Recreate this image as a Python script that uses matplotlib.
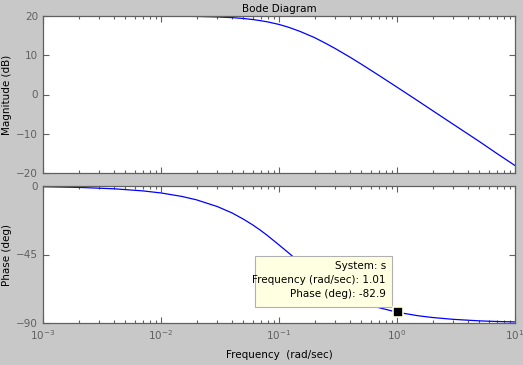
import numpy as np
import matplotlib.pyplot as plt
from matplotlib.patches import Rectangle
from matplotlib.ticker import LogLocator

# values
freq = [0.001, 0.002, 0.004, 0.007, 0.01, 0.015, 0.02, 0.03, 0.04, 0.05, 0.06,
        0.07, 0.08, 0.1, 0.12, 0.15, 0.2, 0.25, 0.3, 0.4, 0.5, 0.7, 1.0, 1.5,
        2.0, 3.0, 5.0, 7.0, 10.0]
mag_db = [20.0, 20.0, 19.99, 19.98, 19.97, 19.94, 19.89, 19.76, 19.59, 19.36, 19.1,
          18.8, 18.5, 17.85, 17.15, 16.1, 14.5, 13.0, 11.7, 9.5, 7.7, 4.9, 1.87, -1.6,
          -4.1, -7.6, -12.0, -15.0, -18.1]
phase_deg = [-0.46, -0.92, -1.83, -3.2, -4.57, -6.84, -9.09, -13.5, -17.7, -21.8, -25.6,
             -29.2, -32.6, -38.7, -43.8, -50.2, -58.0, -63.4, -67.4, -72.6, -76.0, -79.9, -82.9, -85.2,
             -86.4, -87.6, -88.6, -89.0, -89.3]

tip_freq = 1.01
tip_phase = -82.9
tip_lines = ['System: s', 'Frequency (rad/sec): 1.01', 'Phase (deg): -82.9']

bg = '#c8c8c8'
gray = '#606060'
fs = 7.5

fig = plt.figure(figsize=(5.23, 3.65), dpi=100, facecolor=bg)
W, H = 523, 365
ax1 = fig.add_axes([43 / W, 1 - 173 / H, 472 / W, 157 / H])
ax2 = fig.add_axes([43 / W, 1 - 323 / H, 472 / W, 137 / H])

for ax in (ax1, ax2):
    ax.set_xscale('log')
    ax.set_xlim(1e-3, 10)
    ax.xaxis.set_minor_locator(LogLocator(base=10, subs=np.arange(2, 10), numticks=20))
    ax.tick_params(which='both', direction='in', top=True, right=True,
                   colors=gray, labelsize=fs, width=0.8)
    ax.tick_params(which='major', length=4.2)
    ax.tick_params(which='minor', length=2.4)
    for s in ax.spines.values():
        s.set_color(gray)
        s.set_linewidth(0.9)

ax1.plot(freq, mag_db, color='#0000ff', lw=0.9)
ax1.set_ylim(-20, 20)
ax1.set_yticks([-20, -10, 0, 10, 20])
ax1.tick_params(labelbottom=False)
ax1.set_ylabel('Magnitude (dB)', fontsize=fs, labelpad=3)
ax1.set_title('Bode Diagram', fontsize=fs, pad=3)

ax2.plot(freq, phase_deg, color='#0000ff', lw=0.9)
ax2.set_ylim(-90, 0)
ax2.set_yticks([-90, -45, 0])
ax2.set_ylabel('Phase (deg)', fontsize=fs, labelpad=3)
ax2.set_xlabel('Frequency  (rad/sec)', fontsize=fs, labelpad=6)

# data tip box
ax2.add_patch(Rectangle((255 / W, 1 - 307 / H), 137 / W, 51 / H, transform=fig.transFigure,
                        facecolor='#ffffe1', edgecolor='#b0b0b0', lw=0.8, zorder=5))
for i, t in enumerate(tip_lines):
    fig.text(386 / W, 1 - (266 + i * 14) / H, t, ha='right', va='center',
             fontsize=fs, zorder=6)
ax2.plot([tip_freq], [tip_phase], marker='s', ms=7, color='black',
         mec='#ffffe1', mew=1.2, zorder=7, clip_on=False)

fig.savefig('out.png', dpi=100, facecolor=bg)
